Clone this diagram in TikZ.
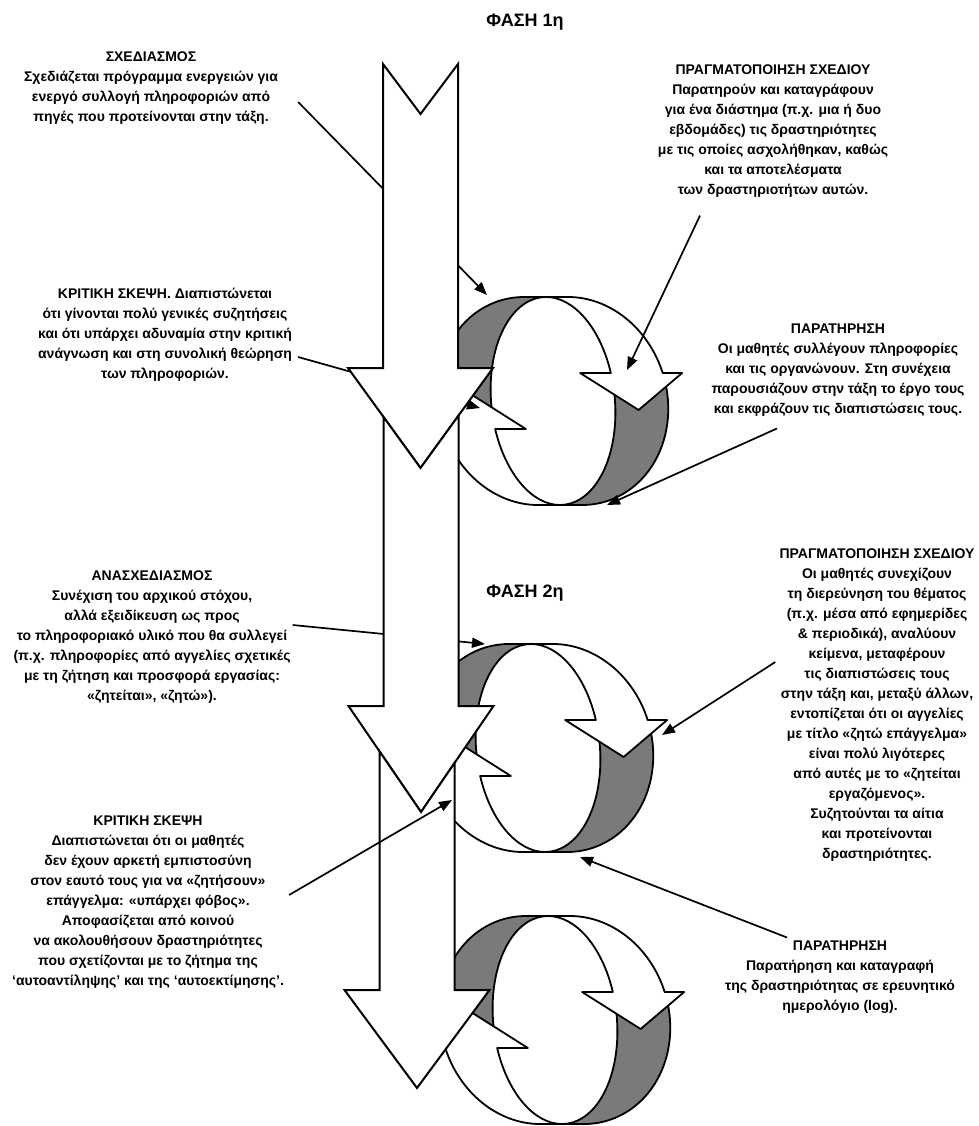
\documentclass[tikz,border=0pt]{standalone}
\usepackage{fontspec}
\setmainfont{Liberation Sans}
\usetikzlibrary{arrows.meta, calc, positioning}

\tikzset{
  bigarrow/.style={draw=black, fill=white, line width=2pt, line join=miter},
  ribbon/.style={draw=black, fill=white, line width=1.8pt, line join=round},
  band/.style={ribbon, fill=black!52},
  pointer/.style={line width=1.7pt, -{Triangle[length=13pt,width=10pt]}},
  note/.style={align=center, inner sep=0pt, font=\fontsize{14}{20}\selectfont\bfseries},
  phase/.style={inner sep=0pt, font=\fontsize{18}{22}\selectfont\bfseries},
}

\begin{document}
\begin{tikzpicture}[x=1pt,y=-1pt]
\useasboundingbox (0,0) rectangle (978,1126);

% the three cycles
\foreach \cx/\cy in {553/401, 538/748, 555/1020}{
\begin{scope}[shift={(\cx,\cy)}, xslant=-0.067]
  \foreach \r in {0,180}{
    \draw[band, rotate=\r] (0,-104) -- (-22,-104) arc[start angle=270, end angle=168.91, x radius=93, y radius=104] -- (-60.84,20) arc[start angle=168.91, end angle=270, x radius=62, y radius=104] -- cycle;
  }
  \foreach \r in {0,180}{
    \draw[ribbon, rotate=\r] (0,-104) -- (22,-104) arc[start angle=270, end angle=344.38, x radius=93, y radius=104] -- (131,-28) -- (85,9) -- (29,-28) -- (59.71,-28) arc[start angle=344.38, end angle=270, x radius=62, y radius=104] -- cycle;
  }
\end{scope}
}

% texts
\node[phase] (phase1) at (525,22) {ΦΑΣΗ 1η};
\node[phase] (phase2) at (525,593) {ΦΑΣΗ 2η};

\node[note] (plan) at (151,88) {ΣΧΕΔΙΑΣΜΟΣ\\Σχεδιάζεται πρόγραμμα ενεργειών για\\ενεργό συλλογή πληροφοριών από\\πηγές που προτείνονται στην τάξη.};
\node[note] (crit1) at (165,335) {ΚΡΙΤΙΚΗ ΣΚΕΨΗ. Διαπιστώνεται\\ότι γίνονται πολύ γενικές συζητήσεις\\και ότι υπάρχει αδυναμία στην κριτική\\ανάγνωση και στη συνολική θεώρηση\\των πληροφοριών.};
\node[note] (act1) at (773,131) {ΠΡΑΓΜΑΤΟΠΟΙΗΣΗ ΣΧΕΔΙΟΥ\\Παρατηρούν και καταγράφουν\\για ένα διάστημα (π.χ. μια ή δυο\\εβδομάδες) τις δραστηριότητες\\με τις οποίες ασχολήθηκαν, καθώς\\και τα αποτελέσματα\\των δραστηριοτήτων αυτών.};
\node[note] (obs1) at (838,370) {ΠΑΡΑΤΗΡΗΣΗ\\Οι μαθητές συλλέγουν πληροφορίες\\και τις οργανώνουν. Στη συνέχεια\\παρουσιάζουν στην τάξη το έργο τους\\και εκφράζουν τις διαπιστώσεις τους.};

\node[note] (replan) at (152,637) {ΑΝΑΣΧΕΔΙΑΣΜΟΣ\\Συνέχιση του αρχικού στόχου,\\αλλά εξειδίκευση ως προς\\το πληροφοριακό υλικό που θα συλλεγεί\\(π.χ. πληροφορίες από αγγελίες σχετικές\\με τη ζήτηση και προσφορά εργασίας:\\«ζητείται», «ζητώ»).};
\node[note] (crit2) at (148,902) {ΚΡΙΤΙΚΗ ΣΚΕΨΗ\\Διαπιστώνεται ότι οι μαθητές\\δεν έχουν αρκετή εμπιστοσύνη\\στον εαυτό τους για να «ζητήσουν»\\επάγγελμα: «υπάρχει φόβος».\\Αποφασίζεται από κοινού\\να ακολουθήσουν δραστηριότητες\\που σχετίζονται με το ζήτημα της\\‘αυτοαντίληψης’ και της ‘αυτοεκτίμησης’.};
\node[note] (act2) at (877,705) {ΠΡΑΓΜΑΤΟΠΟΙΗΣΗ ΣΧΕΔΙΟΥ\\Οι μαθητές συνεχίζουν\\τη διερεύνηση του θέματος\\(π.χ. μέσα από εφημερίδες\\\& περιοδικά), αναλύουν\\κείμενα, μεταφέρουν\\τις διαπιστώσεις τους\\στην τάξη και, μεταξύ άλλων,\\εντοπίζεται ότι οι αγγελίες\\με τίτλο «ζητώ επάγγελμα»\\είναι πολύ λιγότερες\\από αυτές με το «ζητείται\\εργαζόμενος».\\Συζητούνται τα αίτια\\και προτείνονται\\δραστηριότητες.};
\node[note] (obs2) at (840,977) {ΠΑΡΑΤΗΡΗΣΗ\\Παρατήρηση και καταγραφή\\της δραστηριότητας σε ερευνητικό\\ημερολόγιο (log).};

% arrow ends
\coordinate (planend) at (487,295);
\coordinate (crit1end) at (480,408);
\coordinate (replanend) at (485,644);
\coordinate (act1end) at (627,370);
\coordinate (obs1end) at (607,505);
\coordinate (crit2end) at (452,800);
\coordinate (act2end) at (662,735);
\coordinate (obs2end) at (580,857);

% pointers that pass behind the big arrows
\draw[pointer] ([shift={(20,14)}]plan.east) -- (planend);
\draw[pointer] ([shift={(6,22)}]crit1.east) -- (crit1end);
\draw[pointer] ([shift={(2,-12)}]replan.east) -- (replanend);

% big arrows
\draw[bigarrow] (383,64) -- (420.5,114) -- (458,64) -- (458,368) -- (493,368) -- (420.5,468) -- (348,368) -- (383,368) -- cycle;
\draw[bigarrow] (383.5,417) -- (420.5,468) -- (458.5,415.6) -- (458.5,706) -- (493.5,706) -- (421,812) -- (348.5,706) -- (383.5,706) -- cycle;
\draw[bigarrow] (379.5,751.3) -- (421,812) -- (454.5,763) -- (454.5,990) -- (489.5,990) -- (417,1088) -- (344.5,990) -- (379.5,990) -- cycle;

% pointers on top
\draw[pointer] ([shift={(-73,18)}]act1.south) -- (act1end);
\draw[pointer] ([shift={(-61,12)}]obs1.south) -- (obs1end);
\draw[pointer] ([shift={(5,-7)}]crit2.east) -- (crit2end);
\draw[pointer] ([shift={(-4,-43)}]act2.west) -- (act2end);
\draw[pointer] ([shift={(-53,-3)}]obs2.north) -- (obs2end);

\end{tikzpicture}
\end{document}
